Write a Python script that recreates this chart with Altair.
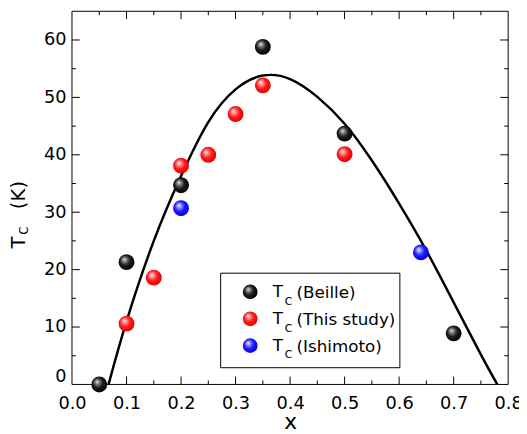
import altair as alt
import pandas as pd

# ---------------- data ----------------
beille_x = [0.05, 0.10, 0.20, 0.35, 0.50, 0.70]
beille_tc = [0.0, 21.3, 34.7, 58.8, 43.7, 8.9]

study_x = [0.10, 0.15, 0.20, 0.25, 0.30, 0.35, 0.50]
study_tc = [10.6, 18.6, 38.1, 40.0, 47.1, 52.1, 40.1]

ishimoto_x = [0.20, 0.64]
ishimoto_tc = [30.7, 23.0]

fit_x = [0.067, 0.10, 0.15, 0.20, 0.25, 0.30, 0.35, 0.40, 0.45, 0.50,
         0.55, 0.60, 0.65, 0.70, 0.75, 0.78]
fit_tc = [0.0, 11.0, 25.0, 36.3, 45.7, 51.4, 53.8, 53.2, 50.1, 45.4,
          39.0, 31.5, 23.3, 14.3, 5.2, 0.0]

series_labels = ["(Beille)", "(This study)", "(Ishimoto)"]

x_domain = [0.0, 0.8]
y_domain = [0, 65]
x_major = [0.0, 0.1, 0.2, 0.3, 0.4, 0.5, 0.6, 0.7, 0.8]
x_minor = [0.05, 0.15, 0.25, 0.35, 0.45, 0.55, 0.65, 0.75]
y_major = [0, 10, 20, 30, 40, 50, 60]
y_minor = [5, 15, 25, 35, 45, 55]

# ---------------- styling ----------------
FONT = "DejaVu Sans"
W, H = 443, 379
MAJ, MIN = 8, 4


def sphere(stops):
    return {
        "gradient": "radial",
        "x1": 0.36, "y1": 0.32, "r1": 0.0,
        "x2": 0.45, "y2": 0.45, "r2": 0.58,
        "stops": [{"offset": o, "color": c} for o, c in stops],
    }


BLACK = sphere([(0, "#f4f4f4"), (0.2, "#8c8c8c"), (0.55, "#1c1c1c"), (1, "#000000")])
RED = sphere([(0, "#ffffff"), (0.2, "#ff9c9c"), (0.55, "#ff1c1c"), (1, "#dd0000")])
BLUE = sphere([(0, "#ffffff"), (0.2, "#9c9cff"), (0.55, "#1c1cff"), (1, "#0000dd")])
fills = [BLACK, RED, BLUE]

xs = alt.Scale(domain=x_domain, nice=False, zero=False)
ys = alt.Scale(domain=y_domain, nice=False, zero=False)

x_label_axis = alt.Axis(orient="bottom", values=x_major, format=".1f", ticks=False,
                        domain=False, grid=False, labelFont=FONT, labelFontSize=18,
                        labelColor="black", labelPadding=10, labelFlush=False,
                        labelOverlap=False, title="x", titleFont=FONT,
                        titleFontSize=22, titleFontWeight="normal",
                        titleColor="black", titlePadding=0)
y_label_axis = alt.Axis(orient="left", values=y_major, format="d", ticks=False,
                        domain=False, grid=False, labelFont=FONT, labelFontSize=18,
                        labelColor="black", labelPadding=6, labelFlush=False,
                        labelOverlap=False, title=None,
                        labelOffset={"condition": {"test": "datum.value == 0", "value": -8},
                                     "value": 0})

# plot frame (carries the labelled axes)
frame = alt.Chart(pd.DataFrame({"x0": [x_domain[0]], "x1": [x_domain[1]],
                                "y0": [y_domain[0]], "y1": [y_domain[1]]})).mark_rect(
    fillOpacity=0, stroke="black", strokeWidth=1
).encode(
    x=alt.X("x0:Q", scale=xs, axis=x_label_axis), x2="x1:Q",
    y=alt.Y("y0:Q", scale=ys, axis=y_label_axis), y2="y1:Q",
)


# inward ticks on all four sides, placed by the scales
def x_ticks(values, size):
    df = pd.DataFrame({"v": values})
    base = alt.Chart(df).mark_rule(color="black", strokeWidth=1)
    enc = alt.X("v:Q", scale=xs, axis=None)
    return [base.encode(x=enc, y=alt.value(H), y2=alt.value(H - size)),
            base.encode(x=enc, y=alt.value(0), y2=alt.value(size))]


def y_ticks(values, size):
    df = pd.DataFrame({"v": values})
    base = alt.Chart(df).mark_rule(color="black", strokeWidth=1)
    enc = alt.Y("v:Q", scale=ys, axis=None)
    return [base.encode(y=enc, x=alt.value(0), x2=alt.value(size)),
            base.encode(y=enc, x=alt.value(W), x2=alt.value(W - size))]


ticks = (x_ticks(x_major[1:-1], MAJ) + x_ticks(x_minor, MIN)
         + y_ticks(y_major[1:], MAJ) + y_ticks(y_minor, MIN))

curve = alt.Chart(pd.DataFrame({"x": fit_x, "Tc": fit_tc})).mark_line(
    color="black", strokeWidth=2.5, interpolate="natural"
).encode(
    x=alt.X("x:Q", scale=xs, axis=None),
    y=alt.Y("Tc:Q", scale=ys, axis=None),
)


def points(xv, yv, fill):
    return alt.Chart(pd.DataFrame({"x": xv, "Tc": yv})).mark_circle(
        fill=fill, size=260, opacity=1, strokeWidth=0
    ).encode(
        x=alt.X("x:Q", scale=xs, axis=None),
        y=alt.Y("Tc:Q", scale=ys, axis=None),
    )


beille = points(beille_x, beille_tc, BLACK)
study = points(study_x, study_tc, RED)
ishimoto = points(ishimoto_x, ishimoto_tc, BLUE)

# ---------------- legend (layout in pixels of the plot area) ----------------
LEG_BOX = (151, 333, 266, 362)
LEG_SYM_X = 181
LEG_Y0, LEG_DY = 285, 27.3
LEG_T_X, LEG_SUB_X, LEG_TXT_X = 204, 216, 228

legend_box = alt.Chart(pd.DataFrame({"a": [0]})).mark_rect(
    fill="white", stroke="black", strokeWidth=1
).encode(x=alt.value(LEG_BOX[0]), x2=alt.value(LEG_BOX[1]),
         y=alt.value(LEG_BOX[2]), y2=alt.value(LEG_BOX[3]))

legend_syms = [
    alt.Chart(pd.DataFrame({"a": [0]})).mark_circle(
        fill=fills[i], size=225, opacity=1, strokeWidth=0
    ).encode(x=alt.value(LEG_SYM_X), y=alt.value(LEG_Y0 + i * LEG_DY))
    for i in range(len(series_labels))
]

main_rows = []
sub_rows = []
for i, lab in enumerate(series_labels):
    yy = LEG_Y0 + i * LEG_DY
    main_rows.append({"t": "T", "px": LEG_T_X, "py": yy})
    main_rows.append({"t": lab, "px": LEG_TXT_X, "py": yy + 1})
    sub_rows.append({"t": "C", "px": LEG_SUB_X, "py": yy + 10})

legend_text = alt.Chart(pd.DataFrame(main_rows)).mark_text(
    font=FONT, fontSize=17, align="left", baseline="middle", color="black"
).encode(x=alt.X("px:Q", scale=None, axis=None),
         y=alt.Y("py:Q", scale=None, axis=None), text="t:N")

legend_sub = alt.Chart(pd.DataFrame(sub_rows)).mark_text(
    font=FONT, fontSize=11, align="left", baseline="middle", color="black"
).encode(x=alt.X("px:Q", scale=None, axis=None),
         y=alt.Y("py:Q", scale=None, axis=None), text="t:N")

# ---------------- y title  T_C (K) ----------------
ytitle_main = alt.Chart(pd.DataFrame({"t": ["T", "(K)"], "px": [-48, -48],
                                      "py": [241, 201]})).mark_text(
    font=FONT, fontSize=20, angle=270, align="left", baseline="alphabetic", color="black"
).encode(x=alt.X("px:Q", scale=None, axis=None),
         y=alt.Y("py:Q", scale=None, axis=None), text="t:N")

ytitle_sub = alt.Chart(pd.DataFrame({"t": ["C"], "px": [-45], "py": [227]})).mark_text(
    font=FONT, fontSize=12, angle=270, align="left", baseline="alphabetic", color="black"
).encode(x=alt.X("px:Q", scale=None, axis=None),
         y=alt.Y("py:Q", scale=None, axis=None), text="t:N")

chart = alt.layer(
    frame, *ticks, curve, beille, study, ishimoto,
    legend_box, *legend_syms, legend_text, legend_sub, ytitle_main, ytitle_sub
).resolve_axis(
    x="independent", y="independent"
).properties(
    width=W, height=H, autosize="none",
    padding={"left": 65, "top": 0, "right": 11, "bottom": 47},
    background="white",
).configure_view(strokeWidth=0)

chart.save("out.html", embed_options={"renderer": "svg", "actions": False})
